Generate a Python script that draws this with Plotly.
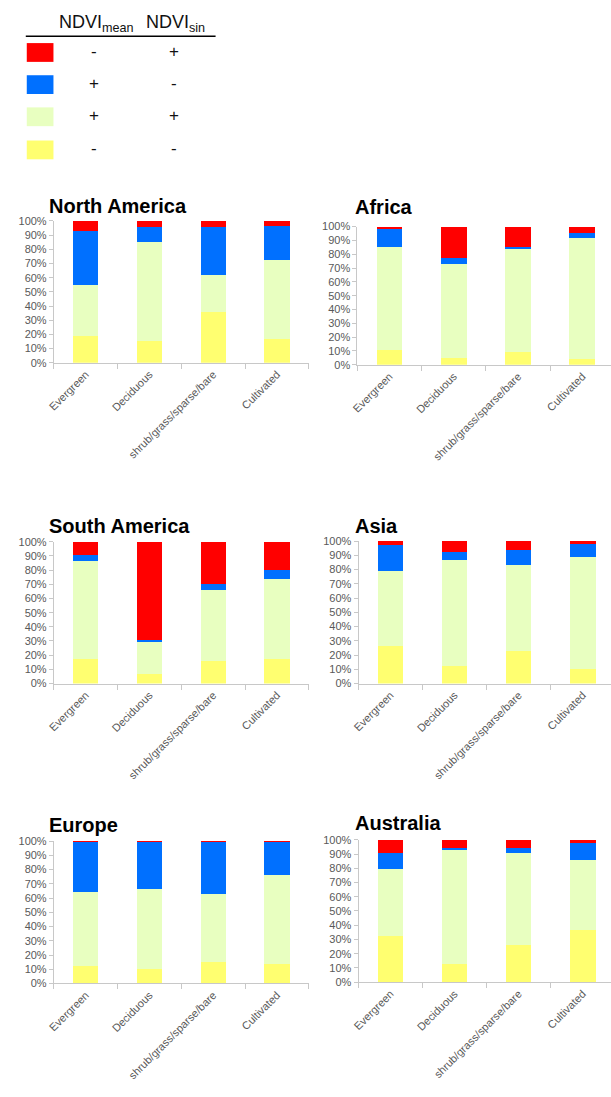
import plotly.graph_objects as go

W, H = 611, 1097

categories = ["Evergreen", "Deciduous", "shrub/grass/sparse/bare", "Cultivated"]
regions = ["North America", "Africa", "South America", "Asia", "Europe", "Australia"]

# stacked shares (%) bottom -> top: yellow (-,-), green (+,+), blue (+,-), red (-,+)
yellow_na = [19, 15, 36, 17]
green_na = [36, 70, 26, 55.5]
blue_na = [38, 10.5, 33.5, 24]
red_na = [7, 4.5, 4.5, 3.5]

yellow_af = [11, 5, 9, 4.5]
green_af = [74, 68, 75, 87]
blue_af = [13.5, 4, 1.5, 3.5]
red_af = [1.5, 23, 14.5, 5]

yellow_sa = [17.5, 7, 16, 17]
green_sa = [69, 22, 50, 57]
blue_sa = [4, 2, 4, 6]
red_sa = [9.5, 69, 30, 20]

yellow_as = [26, 12.5, 23, 10.5]
green_as = [53, 74, 60.5, 78.5]
blue_as = [18, 6, 10.5, 9]
red_as = [3, 7.5, 6, 2]

yellow_eu = [12, 10, 15, 14]
green_eu = [52, 56, 48, 62]
blue_eu = [35.3, 33.3, 36.3, 23.3]
red_eu = [0.7, 0.7, 0.7, 0.7]

yellow_au = [32.5, 13, 26, 37]
green_au = [47, 79.5, 65, 48.5]
blue_au = [11.5, 2, 3.5, 12.5]
red_au = [9, 5.5, 5.5, 2]

legend_mean = ["-", "+", "+", "-"]
legend_sin = ["+", "-", "+", "-"]

C_RED = "#FF0000"
C_BLUE = "#0070FF"
C_GREEN = "#E8FFC0"
C_YELLOW = "#FFFF70"

series = [
    (yellow_na, green_na, blue_na, red_na),
    (yellow_af, green_af, blue_af, red_af),
    (yellow_sa, green_sa, blue_sa, red_sa),
    (yellow_as, green_as, blue_as, red_as),
    (yellow_eu, green_eu, blue_eu, red_eu),
    (yellow_au, green_au, blue_au, red_au),
]

# panel geometry in pixels: x_start, x_end, category width, y of 0%, y of 100%, title x, title y(cap middle)
panels = [
    (47.4, 305.6, 64.5, 360.7, 217.3, 40, 202),
    (354.5, 611, 65.0, 362.7, 223.0, 350, 203),
    (47.4, 305.6, 64.5, 685.0, 541.7, 40, 526),
    (355.6, 611, 64.8, 685.0, 541.0, 350, 526),
    (47.4, 305.6, 64.5, 988.3, 844.3, 40, 828),
    (355.6, 611, 64.8, 987.0, 843.0, 350, 826),
]

fig = go.Figure()
AX = "#C8C8C8"
TICKF = dict(family="Liberation Sans, Arial, sans-serif", size=11, color="#595959")

layout = {}
annotations = []
for i, (reg, ser, geo) in enumerate(zip(regions, series, panels)):
    n = i + 1
    xs = "x" if n == 1 else f"x{n}"
    ys = "y" if n == 1 else f"y{n}"
    for vals, col in zip(ser, [C_YELLOW, C_GREEN, C_BLUE, C_RED]):
        fig.add_trace(go.Bar(x=categories, y=vals, marker=dict(color=col, line=dict(width=0)),
                             xaxis=xs, yaxis=ys, showlegend=False, width=0.4))
    x0, x1, cw, y0p, y100p, tx, ty = geo
    rng_end = -0.5 + (x1 - x0) / cw
    layout[f"xaxis{n}"] = dict(
        domain=[x0 / W, x1 / W], anchor=ys, type="category", range=[-0.5, rng_end],
        showline=True, linecolor=AX, linewidth=1, ticks="outside", ticklen=5, tickcolor=AX,
        tickson="boundaries", tickangle=-45, tickfont=TICKF, showgrid=False, zeroline=False,
        fixedrange=True,
    )
    layout[f"yaxis{n}"] = dict(
        domain=[1 - y0p / H, 1 - y100p / H], anchor=xs, range=[0, 100], dtick=10,
        ticksuffix="%", showline=True, linecolor=AX, linewidth=1, ticks="outside", ticklen=4,
        tickcolor=AX, tickfont=TICKF, showgrid=False, zeroline=False, fixedrange=True,
    )
    annotations.append(dict(text=f"<b>{reg}</b>", x=tx / W, y=1 - ty / H, xref="paper", yref="paper",
                            xanchor="left", yanchor="middle", showarrow=False,
                            font=dict(family="Liberation Sans, Arial, sans-serif", size=20, color="#000000")))

# legend table
LF = dict(family="Liberation Sans, Arial, sans-serif", color="#111111")
annotations.append(dict(text="NDVI<sub>mean</sub>", x=51 / W, y=1 - 18 / H, xref="paper", yref="paper",
                        xanchor="left", yanchor="middle", showarrow=False, font=dict(size=18, **LF)))
annotations.append(dict(text="NDVI<sub>sin</sub>", x=139 / W, y=1 - 18 / H, xref="paper", yref="paper",
                        xanchor="left", yanchor="middle", showarrow=False, font=dict(size=18, **LF)))
shapes = [dict(type="line", xref="paper", yref="paper", x0=19 / W, x1=211 / W, y0=1 - 30.5 / H, y1=1 - 30.5 / H,
               line=dict(color="#000000", width=1.5))]
row_y = [47, 79.5, 112, 145.5]
for col, ry, m, s in zip([C_RED, C_BLUE, C_GREEN, C_YELLOW], row_y, legend_mean, legend_sin):
    shapes.append(dict(type="rect", xref="paper", yref="paper", x0=20 / W, x1=47 / W,
                       y0=1 - (ry + 9.5) / H, y1=1 - (ry - 9.5) / H, fillcolor=col, line=dict(width=0)))
    annotations.append(dict(text=m, x=88 / W, y=1 - (ry - 1) / H, xref="paper", yref="paper", xanchor="center",
                            yanchor="middle", showarrow=False, font=dict(size=17, **LF)))
    annotations.append(dict(text=s, x=169 / W, y=1 - (ry - 1) / H, xref="paper", yref="paper", xanchor="center",
                            yanchor="middle", showarrow=False, font=dict(size=17, **LF)))

fig.update_layout(
    width=W, height=H, margin=dict(l=0, r=0, t=0, b=0), paper_bgcolor="white", plot_bgcolor="white",
    barmode="stack", annotations=annotations, shapes=shapes, **layout,
)

fig.write_html("out.html", config={"displayModeBar": False})
